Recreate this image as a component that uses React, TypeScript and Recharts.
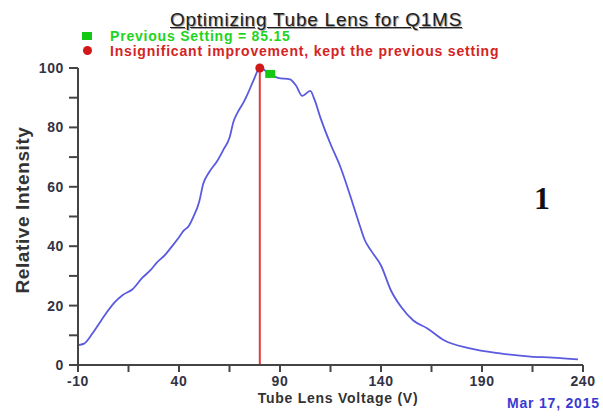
import React from 'react';
import { ComposedChart, Line, Scatter, XAxis, YAxis, ReferenceLine } from 'recharts';

// Tube lens voltage sweep (V) and relative intensity (%)
const voltage = [
  -10, -7, -3, 0, 4, 8, 12, 17, 22, 26, 29, 33, 36, 40, 42, 45, 47, 50, 52, 55, 59, 62, 65, 67, 69, 72, 74, 77, 80,
  85, 89, 95, 98, 101, 105, 107, 110, 115, 120, 125, 129, 132, 135, 140, 145, 150, 156, 163, 171, 184, 199, 214, 225, 237.5,
];
const intensity = [
  6.7, 7.2, 10.5, 13.5, 17.5, 21, 23.5, 25.5, 29.5, 32, 34.5, 37, 39.5, 43, 45, 47, 49.7, 55, 61, 65, 68.8, 72.5, 76.5, 82, 85, 88.5, 91.3, 96, 100,
  98, 96.7, 96.2, 94, 90.6, 92.3, 89.5, 83.3, 74.4, 66.5, 56.5, 48, 42, 38.6, 33.5, 25, 19.5, 15, 12.3, 8.4, 5.6, 3.9, 2.8, 2.5, 1.9,
];

const optimum = [{ v: 80, i: 100 }];
const previous = [{ v: 85.15, i: 98 }];

const xTicks = [-10, 15, 40, 65, 90, 115, 140, 165, 190, 215, 240];
const xLabels = [-10, 40, 90, 140, 190, 240];
const yTicks = [0, 10, 20, 30, 40, 50, 60, 70, 80, 90, 100];
const yLabels = [0, 20, 40, 60, 80, 100];

const curve = voltage.map((v, k) => ({ v, i: intensity[k] }));

const FONT = '"Liberation Sans", Arial, sans-serif';
const axisColor = '#444';
const tickText = '#333344';

const XTick = ({ x, y, payload }: any) =>
  xLabels.includes(payload.value) ? (
    <text x={x} y={y} dy={12} textAnchor="middle" fontFamily={FONT} fontWeight="bold" fontSize={14} letterSpacing={0.6} fill={tickText}>
      {payload.value}
    </text>
  ) : null;

const YTick = ({ x, y, payload }: any) =>
  yLabels.includes(payload.value) ? (
    <text x={x - 3} y={y} dy={5} textAnchor="end" fontFamily={FONT} fontWeight="bold" fontSize={14} letterSpacing={0.6} fill={tickText}>
      {payload.value}
    </text>
  ) : null;

const abs = (s: React.CSSProperties): React.CSSProperties => ({ position: 'absolute', whiteSpace: 'nowrap', lineHeight: 1, ...s });

export default function App() {
  return (
    <div style={{ position: 'absolute', left: 0, top: 0, width: 603, height: 416, background: '#fff', fontFamily: FONT }}>
      <ComposedChart width={603} height={416} data={curve} margin={{ top: 68, right: 20, bottom: 0, left: 0 }}>
        <XAxis
          dataKey="v"
          type="number"
          domain={[-10, 240]}
          ticks={xTicks}
          interval={0}
          tickSize={7}
          axisLine={{ stroke: axisColor, strokeWidth: 2 }}
          tickLine={{ stroke: axisColor, strokeWidth: 2 }}
          tick={<XTick />}
          height={51}
        />
        <YAxis
          type="number"
          domain={[0, 100]}
          ticks={yTicks}
          interval={0}
          tickSize={9}
          axisLine={{ stroke: axisColor, strokeWidth: 2 }}
          tickLine={{ stroke: axisColor, strokeWidth: 2 }}
          tick={<YTick />}
          width={78}
        />
        <ReferenceLine x={80} stroke="#e23b3b" strokeWidth={2} />
        <Line
          dataKey="i"
          type="monotone"
          stroke="#5a5ae0"
          strokeWidth={1.8}
          dot={false}
          isAnimationActive={false}
        />
        <Scatter
          data={optimum}
          dataKey="i"
          isAnimationActive={false}
          shape={(p: any) => <circle cx={p.cx} cy={p.cy} r={4.5} fill="#d01818" />}
        />
        <Scatter
          data={previous}
          dataKey="i"
          isAnimationActive={false}
          shape={(p: any) => <rect x={p.cx - 5} y={p.cy - 4} width={10} height={8} fill="#14c814" />}
        />
      </ComposedChart>

      <div style={abs({ left: 170, top: 10, fontSize: 19, letterSpacing: 0.75, color: '#1e1e1e', textDecoration: 'underline', textShadow: '1px 1px 1px #999' })}>
        Optimizing Tube Lens for Q1MS
      </div>

      <div style={abs({ left: 82, top: 32, width: 10, height: 8, background: '#14c814' })} />
      <div style={abs({ left: 110, top: 29, fontSize: 14, fontWeight: 'bold', letterSpacing: 0.8, color: '#1ed41e' })}>
        Previous Setting = 85.15
      </div>
      <div style={abs({ left: 82.5, top: 45.5, width: 9, height: 9, borderRadius: '50%', background: '#d01818' })} />
      <div style={abs({ left: 110, top: 44, fontSize: 14, fontWeight: 'bold', letterSpacing: 0.8, color: '#d42424' })}>
        Insignificant improvement, kept the previous setting
      </div>

      <div style={abs({ left: 22, top: 210, fontSize: 19, fontWeight: 'bold', letterSpacing: 0.6, color: '#333', transform: 'translate(-50%, -50%) rotate(-90deg)' })}>
        Relative Intensity
      </div>
      <div style={abs({ left: 338, top: 398, fontSize: 14, fontWeight: 'bold', letterSpacing: 0.75, color: '#333', transform: 'translate(-50%, -50%)' })}>
        Tube Lens Voltage (V)
      </div>
      <div style={abs({ left: 507, top: 396, fontSize: 14, fontWeight: 'bold', letterSpacing: 0.8, color: '#3a3ad2' })}>
        Mar 17, 2015
      </div>
      <div style={abs({ left: 542, top: 198, fontSize: 32, fontWeight: 'bold', fontFamily: '"Liberation Serif", serif', color: '#111', transform: 'translate(-50%, -50%)' })}>
        1
      </div>
    </div>
  );
}
